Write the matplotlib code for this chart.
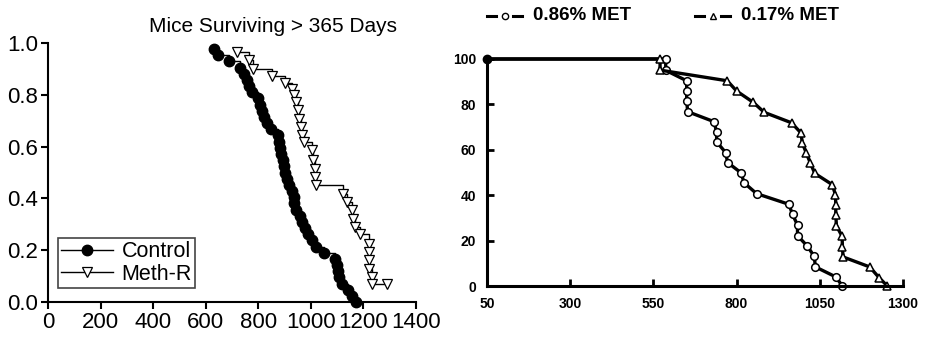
import matplotlib.pyplot as plt
from matplotlib.lines import Line2D

# left panel: Kaplan-Meier survival, mice surviving > 365 days
control_days = [631, 648, 690, 730, 745, 756, 763, 775, 800, 806, 815, 822, 832, 850,
                874, 880, 883, 887, 893, 897, 900, 908, 918, 928, 934, 937, 945, 960,
                968, 976, 991, 1005, 1020, 1050, 1093, 1100, 1105, 1108, 1120, 1143,
                1158, 1173]
control_surv = [0.976, 0.952, 0.929, 0.905, 0.881, 0.857, 0.833, 0.810, 0.786, 0.762,
                0.738, 0.714, 0.690, 0.667, 0.643, 0.619, 0.595, 0.571, 0.548, 0.524,
                0.500, 0.476, 0.452, 0.429, 0.405, 0.381, 0.357, 0.333, 0.310, 0.286,
                0.262, 0.238, 0.214, 0.190, 0.167, 0.143, 0.119, 0.095, 0.071, 0.048,
                0.024, 0.000]

methr_days = [720, 766, 781, 851, 902, 927, 936, 944, 950, 955, 962, 965, 974, 1004,
              1010, 1016, 1016, 1020, 1124, 1137, 1156, 1162, 1169, 1188, 1220, 1220,
              1223, 1223, 1232, 1232, 1289]
methr_surv = [0.965, 0.936, 0.901, 0.871, 0.846, 0.824, 0.798, 0.772, 0.740, 0.708,
              0.676, 0.644, 0.618, 0.586, 0.547, 0.515, 0.483, 0.450, 0.418, 0.386,
              0.354, 0.322, 0.290, 0.264, 0.225, 0.193, 0.161, 0.129, 0.097, 0.068,
              0.068]

# right panel: percent surviving, two methionine levels
met086_days = [50, 587, 587, 650, 650, 650, 653, 732, 740, 740, 767, 773, 813, 823, 860,
               957, 968, 983, 983, 1013, 1033, 1037, 1098, 1118]
met086_pct = [100, 100, 95, 90.4, 85.9, 81.5, 76.8, 72.4, 67.9, 63.5, 58.8, 54.4, 49.9,
              45.4, 40.7, 36.0, 31.6, 26.8, 22.2, 17.5, 13.1, 8.4, 4.0, 0]

met017_days = [50, 570, 570, 772, 800, 850, 883, 965, 993, 998, 1010, 1022, 1035, 1087,
               1097, 1098, 1098, 1100, 1117, 1118, 1120, 1200, 1228, 1253]
met017_pct = [100, 100, 95.1, 90.4, 85.9, 80.9, 76.5, 71.9, 67.5, 62.8, 58.4, 54.0, 49.6,
              44.7, 40.3, 35.9, 31.2, 26.5, 21.9, 17.2, 12.8, 8.4, 3.7, 0]

W, H = 926, 343
fig = plt.figure(figsize=(W / 100, H / 100), dpi=100)

def px_axes(x0, y0, x1, y1):
    return fig.add_axes([x0 / W, 1 - y1 / H, (x1 - x0) / W, (y1 - y0) / H])

sans = "Liberation Sans"

# ---- left panel ----
ax1 = px_axes(48, 43, 416, 302)
ax1.plot(control_days, control_surv, drawstyle="steps-post", color="black", lw=1,
         marker="o", ms=7.5, mfc="black", mec="black", clip_on=False, label="Control")
ax1.plot(methr_days, methr_surv, drawstyle="steps-post", color="black", lw=1,
         marker="v", ms=7.5, mfc="white", mec="black", mew=0.9, clip_on=False,
         label="Meth-R")
ax1.set_xlim(0, 1400)
ax1.set_ylim(0, 1.0)
ax1.set_xticks(range(0, 1401, 200))
ax1.set_yticks([0.0, 0.2, 0.4, 0.6, 0.8, 1.0])
ax1.set_yticklabels(["0.0", "0.2", "0.4", "0.6", "0.8", "1.0"])
for s in ("top", "right"):
    ax1.spines[s].set_visible(False)
for s in ("left", "bottom"):
    ax1.spines[s].set_linewidth(1.5)
ax1.tick_params(direction="out", length=5, width=1.5, labelsize=16, pad=2)
for lab in ax1.get_xticklabels() + ax1.get_yticklabels():
    lab.set_family(sans)
fig.text(273 / W, 1 - 27 / H, "Mice Surviving > 365 Days", ha="center", va="center",
         fontsize=15, family=sans)
leg1 = ax1.legend(loc="lower left", bbox_to_anchor=(0.027, 0.055), fancybox=False,
                  edgecolor="#444444", framealpha=1, borderpad=0.15, handlelength=2.4,
                  handletextpad=0.4, labelspacing=0.05, borderaxespad=0,
                  prop={"family": sans, "size": 15.5})
leg1.get_frame().set_linewidth(1.2)

# ---- right panel ----
ax2 = px_axes(487, 59, 903, 286)
ax2.plot(met086_days, met086_pct, color="black", lw=2.4, marker="o", ms=5.5, mfc="white",
         mec="black", mew=1.1, markevery=list(range(1, len(met086_days))), clip_on=False)
ax2.plot(met017_days, met017_pct, color="black", lw=2.4, marker="^", ms=5.5, mfc="white",
         mec="black", mew=1.1, markevery=list(range(1, len(met017_days))), clip_on=False)
ax2.plot(met086_days[0], met086_pct[0], marker="o", ms=6, color="black", clip_on=False)
ax2.set_xlim(50, 1300)
ax2.set_ylim(0, 100)
ax2.set_xticks([50, 300, 550, 800, 1050, 1300])
ax2.set_yticks([0, 20, 40, 60, 80, 100])
for s in ("top", "right"):
    ax2.spines[s].set_visible(False)
for s in ("left", "bottom"):
    ax2.spines[s].set_linewidth(2.2)
ax2.tick_params(direction="in", length=5, width=2, labelsize=10, pad=8)
for lab in ax2.get_xticklabels() + ax2.get_yticklabels():
    lab.set_family(sans)
    lab.set_fontweight("bold")

# legend row above the right panel: dash, marker, dash, then label
for x0, mk, label in [(487, "o", "0.86% MET"), (695, "^", "0.17% MET")]:
    y = 1 - 16 / H
    for a, b in [(x0, x0 + 9), (x0 + 26, x0 + 35)]:
        fig.add_artist(Line2D([a / W, b / W], [y, y], color="black", lw=2.2))
    fig.add_artist(Line2D([(x0 + 17.5) / W], [y], marker=mk, ms=4.5, mfc="white",
                          mec="black", mew=1, ls="none"))
    fig.text((x0 + 46) / W, y, label, ha="left", va="center", fontsize=13.5,
             fontweight="bold", family=sans)

fig.savefig("out.png", dpi=100)
